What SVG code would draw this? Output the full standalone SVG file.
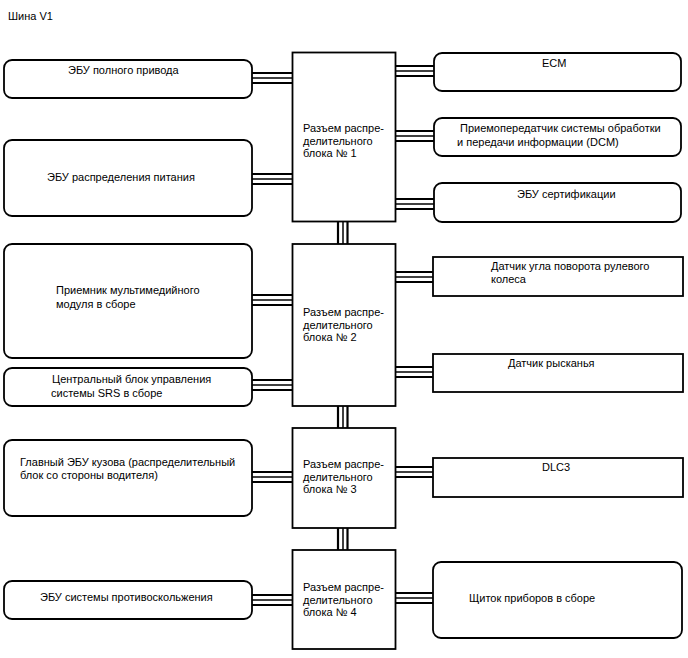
<svg xmlns="http://www.w3.org/2000/svg" width="688" height="658" viewBox="0 0 688 658">
<style>
text{font-family:"Liberation Sans",Arial,sans-serif;font-size:11px;fill:#000}
.b{fill:#fff;stroke:#000;stroke-width:1.8}
.w1{stroke:#000;stroke-width:2.2}
.w2{stroke:#000;stroke-width:1.5}
.w3{stroke:#000;stroke-width:1.8}
</style>
<rect width="688" height="658" fill="#fff"/>
<text x="8" y="19.5">Шина V1</text>
<g id="connectors">
<g id="c-l1"><line class="w1" x1="252" y1="73" x2="292.5" y2="73"/><line class="w2" x1="252" y1="78" x2="292.5" y2="78"/><line class="w3" x1="252" y1="83" x2="292.5" y2="83"/></g>
<g id="c-l2"><line class="w1" x1="252" y1="174" x2="292.5" y2="174"/><line class="w2" x1="252" y1="179" x2="292.5" y2="179"/><line class="w3" x1="252" y1="184" x2="292.5" y2="184"/></g>
<g id="c-r1"><line class="w1" x1="395.5" y1="66" x2="434" y2="66"/><line class="w2" x1="395.5" y1="71" x2="434" y2="71"/><line class="w3" x1="395.5" y1="76" x2="434" y2="76"/></g>
<g id="c-r2"><line class="w1" x1="395.5" y1="131" x2="434" y2="131"/><line class="w2" x1="395.5" y1="136" x2="434" y2="136"/><line class="w3" x1="395.5" y1="141" x2="434" y2="141"/></g>
<g id="c-r3"><line class="w1" x1="395.5" y1="199" x2="434" y2="199"/><line class="w2" x1="395.5" y1="204" x2="434" y2="204"/><line class="w3" x1="395.5" y1="209" x2="434" y2="209"/></g>
<g id="c-v12"><line class="w1" x1="338" y1="221.5" x2="338" y2="244"/><line class="w2" x1="343" y1="221.5" x2="343" y2="244"/><line class="w1" x1="347.5" y1="221.5" x2="347.5" y2="244"/></g>
<g id="c-l3"><line class="w1" x1="252" y1="295" x2="292.5" y2="295"/><line class="w2" x1="252" y1="300" x2="292.5" y2="300"/><line class="w3" x1="252" y1="305" x2="292.5" y2="305"/></g>
<g id="c-l4"><line class="w1" x1="252" y1="380" x2="292.5" y2="380"/><line class="w2" x1="252" y1="385" x2="292.5" y2="385"/><line class="w3" x1="252" y1="390" x2="292.5" y2="390"/></g>
<g id="c-r4"><line class="w1" x1="395.5" y1="272" x2="433" y2="272"/><line class="w2" x1="395.5" y1="277" x2="433" y2="277"/><line class="w3" x1="395.5" y1="282" x2="433" y2="282"/></g>
<g id="c-r5"><line class="w1" x1="395.5" y1="367" x2="433" y2="367"/><line class="w2" x1="395.5" y1="372" x2="433" y2="372"/><line class="w3" x1="395.5" y1="377" x2="433" y2="377"/></g>
<g id="c-v23"><line class="w1" x1="338" y1="406" x2="338" y2="428"/><line class="w2" x1="343" y1="406" x2="343" y2="428"/><line class="w1" x1="347.5" y1="406" x2="347.5" y2="428"/></g>
<g id="c-l5"><line class="w1" x1="252" y1="472" x2="292.5" y2="472"/><line class="w2" x1="252" y1="477" x2="292.5" y2="477"/><line class="w3" x1="252" y1="482" x2="292.5" y2="482"/></g>
<g id="c-r6"><line class="w1" x1="395.5" y1="467" x2="433" y2="467"/><line class="w2" x1="395.5" y1="472" x2="433" y2="472"/><line class="w3" x1="395.5" y1="477" x2="433" y2="477"/></g>
<g id="c-v34"><line class="w1" x1="338" y1="528" x2="338" y2="550"/><line class="w2" x1="343" y1="528" x2="343" y2="550"/><line class="w1" x1="347.5" y1="528" x2="347.5" y2="550"/></g>
<g id="c-l6"><line class="w1" x1="252" y1="595" x2="292.5" y2="595"/><line class="w2" x1="252" y1="600" x2="292.5" y2="600"/><line class="w3" x1="252" y1="605" x2="292.5" y2="605"/></g>
<g id="c-r7"><line class="w1" x1="395.5" y1="593" x2="433" y2="593"/><line class="w2" x1="395.5" y1="598" x2="433" y2="598"/><line class="w3" x1="395.5" y1="603" x2="433" y2="603"/></g>
</g>
<g id="hub1"><rect class="b" x="292.5" y="52.5" width="103" height="169"/><text x="303" y="132">Разъем распре-</text><text x="303" y="144.5">делительного</text><text x="303" y="157">блока № 1</text></g>
<g id="hub2"><rect class="b" x="292.5" y="244" width="103" height="162"/><text x="303" y="316">Разъем распре-</text><text x="303" y="328.5">делительного</text><text x="303" y="341">блока № 2</text></g>
<g id="hub3"><rect class="b" x="292.5" y="428" width="103" height="100"/><text x="303" y="468">Разъем распре-</text><text x="303" y="480.5">делительного</text><text x="303" y="493">блока № 3</text></g>
<g id="hub4"><rect class="b" x="292.5" y="550" width="103" height="99"/><text x="303" y="591">Разъем распре-</text><text x="303" y="603.5">делительного</text><text x="303" y="616">блока № 4</text></g>
<g id="l1"><rect class="b" x="4" y="60" width="248" height="38" rx="8"/><text x="68" y="74">ЭБУ полного привода</text></g>
<g id="l2"><rect class="b" x="4" y="140" width="248" height="76" rx="8"/><text x="47" y="181">ЭБУ распределения питания</text></g>
<g id="l3"><rect class="b" x="4" y="244" width="248" height="114" rx="8"/><text x="56" y="294">Приемник мультимедийного</text><text x="56" y="308">модуля в сборе</text></g>
<g id="l4"><rect class="b" x="4" y="368" width="248" height="38" rx="8"/><text x="52" y="383">Центральный блок управления</text><text x="51" y="397">системы SRS в сборе</text></g>
<g id="l5"><rect class="b" x="4" y="440" width="248" height="76" rx="8"/><text x="20" y="466">Главный ЭБУ кузова (распределительный</text><text x="20" y="479">блок со стороны водителя)</text></g>
<g id="l6"><rect class="b" x="4" y="581" width="248" height="38" rx="8"/><text x="40" y="601">ЭБУ системы противоскольжения</text></g>
<g id="r1"><rect class="b" x="434" y="53" width="247" height="38" rx="8"/><text x="542" y="67">ECM</text></g>
<g id="r2"><rect class="b" x="434" y="118" width="247" height="38" rx="8"/><text x="460" y="132">Приемопередатчик системы обработки</text><text x="457" y="146">и передачи информации (DCM)</text></g>
<g id="r3"><rect class="b" x="434" y="183" width="247" height="39" rx="8"/><text x="517" y="198">ЭБУ сертификации</text></g>
<g id="r4"><rect class="b" x="433" y="257" width="250" height="39"/><text x="491" y="270">Датчик угла поворота рулевого</text><text x="491" y="283">колеса</text></g>
<g id="r5"><rect class="b" x="433" y="354" width="250" height="38"/><text x="508" y="367">Датчик рысканья</text></g>
<g id="r6"><rect class="b" x="433" y="458" width="250" height="39"/><text x="542" y="471">DLC3</text></g>
<g id="r7"><rect class="b" x="433" y="562" width="249" height="76" rx="8"/><text x="469" y="602">Щиток приборов в сборе</text></g>
</svg>
